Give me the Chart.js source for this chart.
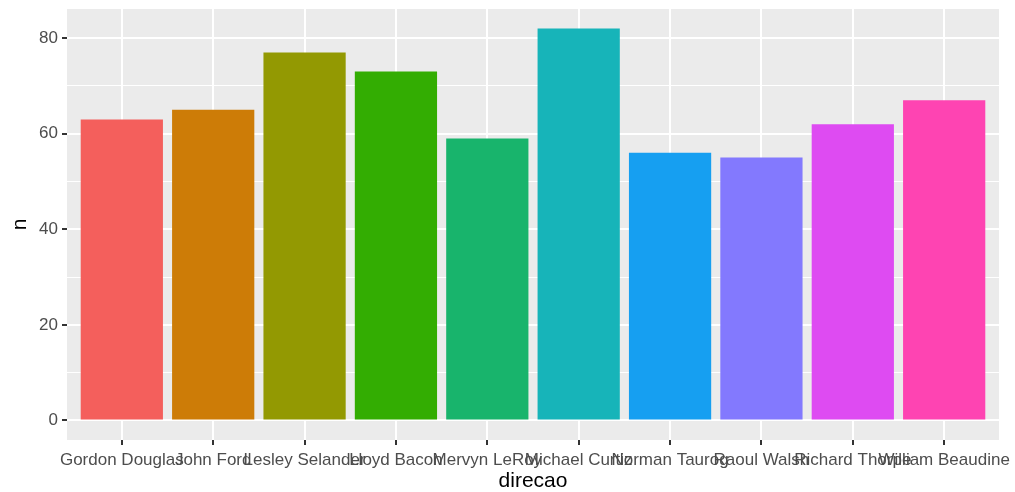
<!DOCTYPE html>
<html>
<head>
<meta charset="utf-8">
<script src="https://cdn.jsdelivr.net/npm/chart.js@4.4.1/dist/chart.umd.min.js"></script>
<style>
    html, body { margin: 0; padding: 0; background: #ffffff; }
    #wrap { width: 1015px; height: 492px; }
</style>
</head>
<body>
<div id="wrap"><canvas id="direcao-chart" width="1015" height="492"></canvas></div>
<script>
const directors = [
    'Gordon Douglas', 'John Ford', 'Lesley Selander', 'Lloyd Bacon', 'Mervyn LeRoy',
    'Michael Curtiz', 'Norman Taurog', 'Raoul Walsh', 'Richard Thorpe', 'William Beaudine',
];
const counts = [63, 65, 77, 73, 59, 82, 56, 55, 62, 67];
const barColors = [
    '#F45F5C', '#CD7C07', '#939902', '#33AD02', '#18B46C',
    '#17B4B9', '#169FF1', '#8379FE', '#DE4BF2', '#FE44B2',
];
const yTicks = [0, 10, 20, 30, 40, 50, 60, 70, 80];

const FONT = "'Liberation Sans', Arial, Helvetica, sans-serif";

const panelBackground = {
    id: 'panelBackground',
    beforeDraw(chart) {
        const { ctx, chartArea: a } = chart;
        ctx.save();
        ctx.fillStyle = '#EBEBEB';
        ctx.fillRect(a.left, a.top, a.right - a.left, a.bottom - a.top);
        ctx.restore();
    },
};

const isMajor = (v) => v % 20 === 0;

new Chart(document.getElementById('direcao-chart'), {
    type: 'bar',
    data: {
        datasets: [
            {
                data: counts.map((n, i) => ({ x: i + 1, y: n })),
                backgroundColor: barColors,
                borderWidth: 0,
                categoryPercentage: 1,
                barPercentage: 0.9,
            },
        ],
    },
    plugins: [panelBackground],
    options: {
        responsive: false,
        animation: false,
        layout: { padding: { top: 9, right: 16, left: 0, bottom: 0 } },
        plugins: {
            legend: { display: false },
            tooltip: { enabled: false },
        },
        scales: {
            x: {
                type: 'linear',
                min: 0.4,
                max: 10.6,
                offset: false,
                afterBuildTicks(scale) {
                    scale.ticks = directors.map((_, i) => ({ value: i + 1 }));
                },
                afterFit(scale) {
                    scale.height = 52;
                    scale.paddingLeft = 0;
                    scale.paddingRight = 0;
                },
                border: { display: false },
                grid: {
                    offset: false,
                    color: '#FFFFFF',
                    lineWidth: 2,
                    tickColor: '#333333',
                    tickLength: 5,
                    tickWidth: 2,
                },
                ticks: {
                    autoSkip: false,
                    maxRotation: 0,
                    minRotation: 0,
                    padding: 5,
                    color: '#4D4D4D',
                    font: { family: FONT, size: 17 },
                    callback: (v) => directors[v - 1] ?? '',
                },
                title: {
                    display: true,
                    text: 'direcao',
                    color: '#000000',
                    font: { family: FONT, size: 21, lineHeight: 1 },
                    padding: { top: 0, bottom: 0 },
                },
            },
            y: {
                min: -4.1,
                max: 86.1,
                afterBuildTicks(scale) {
                    scale.ticks = yTicks.map((v) => ({ value: v }));
                },
                afterFit(scale) {
                    scale.width = 67;
                    scale.paddingTop = 0;
                    scale.paddingBottom = 0;
                },
                border: { display: false },
                grid: {
                    color: '#FFFFFF',
                    lineWidth: (ctx) => (isMajor(ctx.tick.value) ? 2 : 1),
                    tickColor: (ctx) => (isMajor(ctx.tick.value) ? '#333333' : 'rgba(0,0,0,0)'),
                    tickLength: 5,
                    tickWidth: 2,
                },
                ticks: {
                    padding: 4,
                    color: '#4D4D4D',
                    font: { family: FONT, size: 17 },
                    callback: (v) => (isMajor(v) ? String(v) : ''),
                },
                title: {
                    display: true,
                    text: 'n',
                    color: '#000000',
                    font: { family: FONT, size: 21, lineHeight: 1 },
                    padding: { top: 10, bottom: 0 },
                },
            },
        },
    },
});
</script>
</body>
</html>
